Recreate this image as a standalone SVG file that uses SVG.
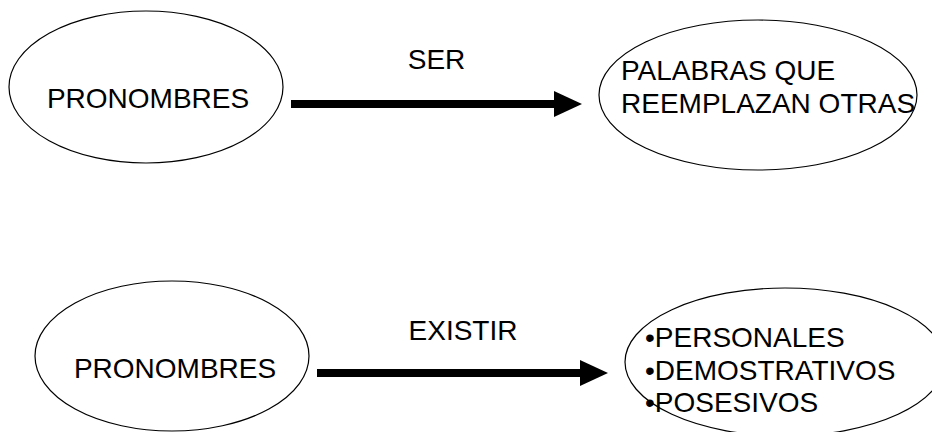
<svg xmlns="http://www.w3.org/2000/svg" width="932" height="432" viewBox="0 0 932 432">
  <defs>
    <style>
      .node ellipse { fill: #ffffff; stroke: #000000; stroke-width: 1.2; }
      text { font-family: "Liberation Sans", Arial, sans-serif; fill: #000000; font-size: 28px; }
      .mid { text-anchor: middle; }
      .conn line { stroke: #000000; stroke-width: 8; }
    </style>
    <marker id="arrow" markerUnits="userSpaceOnUse" markerWidth="28" markerHeight="26" refX="0" refY="13" orient="auto">
      <path d="M0,0 L28,13 L0,26 Z" fill="#000000"/>
    </marker>
  </defs>
  <rect width="932" height="432" fill="#ffffff"/>

  <g id="n-pronombres-1" class="node">
    <ellipse cx="146" cy="87" rx="137" ry="76"/>
    <text class="mid" x="148" y="108">PRONOMBRES</text>
  </g>
  <g id="n-palabras" class="node">
    <ellipse cx="758" cy="95" rx="159" ry="75"/>
    <text x="621" y="80">PALABRAS QUE</text>
    <text x="621" y="113">REEMPLAZAN OTRAS</text>
  </g>
  <g id="n-pronombres-2" class="node">
    <ellipse cx="172" cy="356" rx="137" ry="75"/>
    <text class="mid" x="175" y="378">PRONOMBRES</text>
  </g>
  <g id="n-tipos" class="node">
    <ellipse cx="785" cy="362" rx="160" ry="74"/>
    <text x="645" y="347">•PERSONALES</text>
    <text x="645" y="380">•DEMOSTRATIVOS</text>
    <text x="645" y="412">•POSESIVOS</text>
  </g>

  <g id="connectors" class="conn">
    <line x1="291" y1="104" x2="554" y2="104" marker-end="url(#arrow)"/>
    <text class="mid" x="436.5" y="69">SER</text>
    <line x1="317" y1="373" x2="580" y2="373" marker-end="url(#arrow)"/>
    <text class="mid" x="463" y="340">EXISTIR</text>
  </g>
</svg>
